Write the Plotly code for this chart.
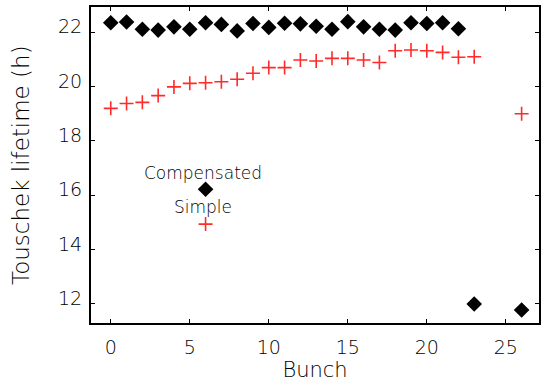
import plotly.graph_objects as go

bunch_comp = list(range(0, 23)) + [23, 26]
life_comp = [22.35, 22.38, 22.11, 22.08, 22.2, 22.11, 22.35, 22.29, 22.05, 22.32,
             22.18, 22.33, 22.31, 22.22, 22.11, 22.39, 22.2, 22.11, 22.08, 22.35,
             22.32, 22.35, 22.13, 12.0, 11.78]
bunch_simple = list(range(0, 24)) + [26]
life_simple = [19.2, 19.38, 19.42, 19.67, 19.99, 20.12, 20.14, 20.18, 20.27, 20.49,
               20.70, 20.70, 20.98, 20.94, 21.04, 21.04, 20.98, 20.89, 21.32, 21.35,
               21.32, 21.26, 21.08, 21.1, 19.0]

legend_x = [6]
legend_comp_y = [16.22]
legend_simple_y = [14.94]
legend_labels = ["Compensated", "Simple"]
legend_label_y = [16.83, 15.58]

y_ticks = [12, 14, 16, 18, 20, 22]
x_ticks = [0, 5, 10, 15, 20, 25]

FONT = "DejaVu Sans"
W = 200
RED = "#ff2a2a"

fig = go.Figure()
fig.add_trace(go.Scatter(x=bunch_comp, y=life_comp, mode="markers",
                         marker=dict(symbol="diamond", size=12, color="black"),
                         showlegend=False, cliponaxis=False))
fig.add_trace(go.Scatter(x=bunch_simple, y=life_simple, mode="markers",
                         marker=dict(symbol="cross-thin", size=10,
                                     line=dict(color=RED, width=1.6)),
                         showlegend=False, cliponaxis=False))
fig.add_trace(go.Scatter(x=legend_x, y=legend_comp_y, mode="markers",
                         marker=dict(symbol="diamond", size=12, color="black"),
                         showlegend=False))
fig.add_trace(go.Scatter(x=legend_x, y=legend_simple_y, mode="markers",
                         marker=dict(symbol="cross-thin", size=10,
                                     line=dict(color=RED, width=1.6)),
                         showlegend=False))

for lbl, ly in zip(legend_labels, legend_label_y):
    fig.add_annotation(x=5.85, y=ly, text=lbl, showarrow=False,
                       font=dict(family=FONT, weight=W, size=17, color="black"))

for t in y_ticks:
    fig.add_annotation(x=0, xref="paper", y=t, yref="y", text=str(t),
                       showarrow=False, xanchor="right", yanchor="middle",
                       xshift=-7, yshift=6,
                       font=dict(family=FONT, weight=W, size=19, color="black"))

axis_common = dict(showgrid=False, zeroline=False, showline=True, linecolor="black",
                   linewidth=1.5, mirror="allticks", ticks="inside", ticklen=4,
                   tickcolor="black", tickwidth=1)

fig.update_xaxes(range=[-1.25, 27.1], tickvals=x_ticks,
                 tickfont=dict(family=FONT, weight=W, size=19, color="black"),
                 title=dict(text="Bunch", font=dict(family=FONT, weight=W, size=21, color="black"),
                            standoff=3),
                 ticklabelstandoff=6,
                 **axis_common)
fig.update_yaxes(range=[11.3, 22.93], tickvals=y_ticks, showticklabels=False,
                 **axis_common)

fig.add_annotation(x=0, xref="paper", xanchor="right", xshift=-55,
                   y=0.5, yref="paper", text="Touschek lifetime (h)", textangle=-90,
                   showarrow=False, font=dict(family=FONT, weight=W, size=23, color="black"))

fig.update_layout(width=541, height=383, margin=dict(l=91, r=0, t=7, b=60),
                  plot_bgcolor="white", paper_bgcolor="white")

fig.write_html("out.html")
